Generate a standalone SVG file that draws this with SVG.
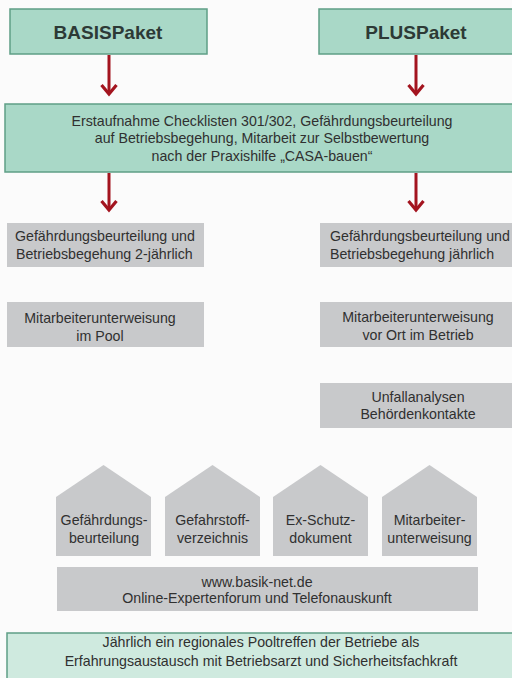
<svg xmlns="http://www.w3.org/2000/svg" width="512" height="678" viewBox="0 0 512 678">
<style>
.bg{fill:#fbfbfb}
.pk{fill:#a9d8c7;stroke:#5f9f86;stroke-width:1.5}
.lt{fill:#cfeadf;stroke:#5f9f86;stroke-width:1.5}
.gr{fill:#c8c9cb}
text{font-family:"Liberation Sans",Arial,sans-serif;fill:#303030;text-anchor:middle}
.h{font-size:19px;font-weight:bold;fill:#2d3a36}
.t{font-size:14.2px}
.l{text-anchor:start}
.c{stroke:#a3141f;stroke-width:3;fill:none}
</style>
<defs>
<marker id="ah" viewBox="-3 -12 16 24" refX="9" refY="0" markerWidth="16" markerHeight="24" orient="auto" markerUnits="userSpaceOnUse">
<path d="M0,-7.5 L9,0 L0,7.5" fill="none" stroke="#a3141f" stroke-width="3.2" stroke-linejoin="miter"/>
</marker>
</defs>
<rect class="bg" x="0" y="0" width="512" height="678"/>
<g id="connectors">
<line class="c" x1="109" y1="55" x2="109" y2="94" marker-end="url(#ah)"/>
<line class="c" x1="416" y1="55" x2="416" y2="94" marker-end="url(#ah)"/>
<line class="c" x1="109" y1="173" x2="109" y2="210" marker-end="url(#ah)"/>
<line class="c" x1="416" y1="173" x2="416" y2="210" marker-end="url(#ah)"/>
</g>
<g id="basis">
<rect class="pk" x="10" y="9" width="197" height="45"/>
<text class="h" x="108" y="39">BASISPaket</text>
</g>
<g id="plus">
<rect class="pk" x="319" y="9" width="200" height="45"/>
<text class="h" x="416" y="39">PLUSPaket</text>
</g>
<g id="erstaufnahme">
<rect class="pk" x="5" y="104" width="514" height="68"/>
<text class="t" x="262" y="126">Erstaufnahme Checklisten 301/302, Gefährdungsbeurteilung</text>
<text class="t" x="262" y="143">auf Betriebsbegehung, Mitarbeit zur Selbstbewertung</text>
<text class="t" x="262" y="161">nach der Praxishilfe „CASA-bauen“</text>
</g>
<g id="gb2">
<rect class="gr" x="7" y="223" width="197" height="44"/>
<text class="t l" x="15" y="241">Gefährdungsbeurteilung und</text>
<text class="t l" x="16" y="259">Betriebsbegehung 2-jährlich</text>
</g>
<g id="gb1">
<rect class="gr" x="320" y="223" width="192" height="44"/>
<text class="t l" x="330" y="241">Gefährdungsbeurteilung und</text>
<text class="t l" x="330" y="259">Betriebsbegehung jährlich</text>
</g>
<g id="mupool">
<rect class="gr" x="7" y="302" width="197" height="45"/>
<text class="t" x="100" y="323">Mitarbeiterunterweisung</text>
<text class="t" x="100" y="341">im Pool</text>
</g>
<g id="muort">
<rect class="gr" x="320" y="302" width="192" height="45"/>
<text class="t" x="418" y="322">Mitarbeiterunterweisung</text>
<text class="t" x="418" y="340">vor Ort im Betrieb</text>
</g>
<g id="unfall">
<rect class="gr" x="320" y="383" width="192" height="45"/>
<text class="t" x="418" y="402">Unfallanalysen</text>
<text class="t" x="418" y="419">Behördenkontakte</text>
</g>
<g id="h1">
<path class="gr" d="M56,497 L103.5,465 L151,497 L151,556 L56,556 Z"/>
<text class="t" x="104" y="525">Gefährdungs-</text>
<text class="t" x="104" y="543">beurteilung</text>
</g>
<g id="h2">
<path class="gr" d="M165,497 L212.5,465 L260,497 L260,556 L165,556 Z"/>
<text class="t" x="212.5" y="525">Gefahrstoff-</text>
<text class="t" x="212.5" y="543">verzeichnis</text>
</g>
<g id="h3">
<path class="gr" d="M273,497 L320.5,465 L368,497 L368,556 L273,556 Z"/>
<text class="t" x="320.5" y="525">Ex-Schutz-</text>
<text class="t" x="320.5" y="543">dokument</text>
</g>
<g id="h4">
<path class="gr" d="M382,497 L429.5,465 L477,497 L477,556 L382,556 Z"/>
<text class="t" x="429.5" y="525">Mitarbeiter-</text>
<text class="t" x="429.5" y="543">unterweisung</text>
</g>
<g id="forum">
<rect class="gr" x="57" y="567" width="421" height="44"/>
<text class="t" x="257" y="587">www.basik-net.de</text>
<text class="t" x="257" y="603">Online-Expertenforum und Telefonauskunft</text>
</g>
<g id="pooltreffen">
<rect class="lt" x="7" y="633" width="512" height="50"/>
<text class="t" x="261" y="647">Jährlich ein regionales Pooltreffen der Betriebe als</text>
<text class="t" x="261" y="666">Erfahrungsaustausch mit Betriebsarzt und Sicherheitsfachkraft</text>
</g>
</svg>
